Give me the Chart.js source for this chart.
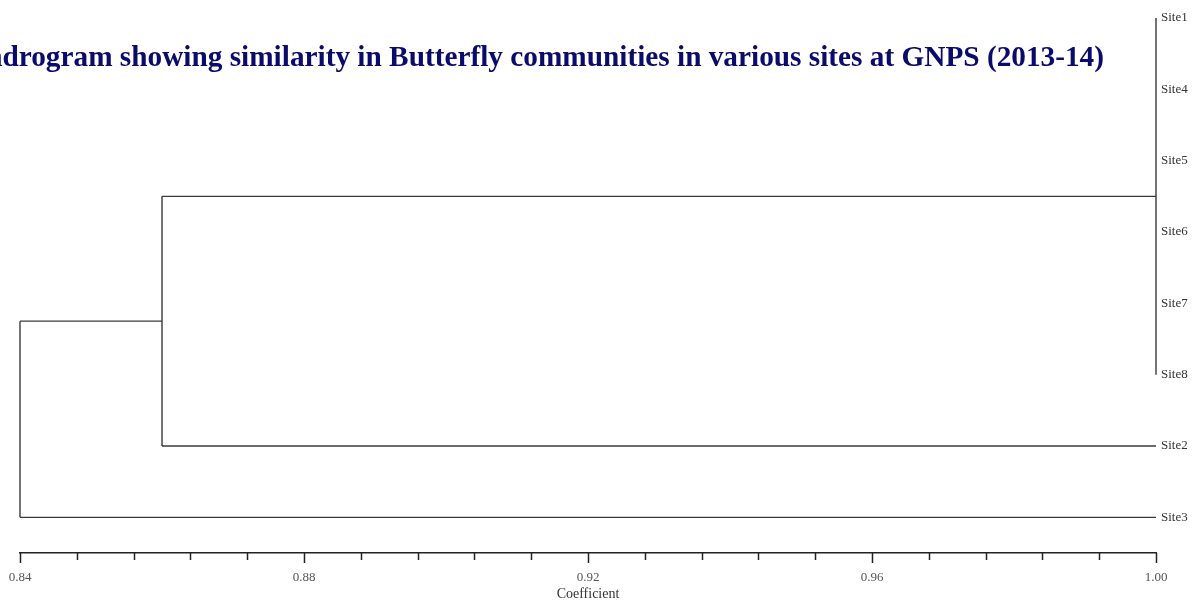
<!DOCTYPE html>
<html>
<head>
<meta charset="utf-8">
<script src="https://cdn.jsdelivr.net/npm/chart.js@4.4.1/dist/chart.umd.min.js"></script>
<style>
  html, body { margin: 0; padding: 0; background: #fff; }
  #wrap { width: 1199px; height: 603px; position: relative; }
</style>
</head>
<body>
<div id="wrap"><canvas id="dendro"></canvas></div>
<script>
// leaf order, top to bottom
var sites = ['Site1', 'Site4', 'Site5', 'Site6', 'Site7', 'Site8', 'Site2', 'Site3'];
// nested clusters: cluster k holds the first clusterSizes[k] leaves, joined at mergeLevels[k]
var clusterSizes = [6, 7, 8];
var mergeLevels = [1.00, 0.86, 0.84];
// axis ticks
var tickValues = [0.84, 0.848, 0.856, 0.864, 0.872, 0.88, 0.888, 0.896, 0.904, 0.912, 0.92,
                  0.928, 0.936, 0.944, 0.952, 0.96, 0.968, 0.976, 0.984, 0.992, 1.00];
var majorTicks = ['0.84', '0.88', '0.92', '0.96', '1.00'];

var titleText = 'Dendrogram showing similarity in Butterfly communities in various sites at GNPS (2013-14)';
var lineColor = '#3a3a3a';
var labelFont = '"Liberation Serif", "Times New Roman", serif';

// build the segments of the tree
var segments = [];
var prevNode = null; // {x, y} of previous cluster node
var prevSize = 0;
for (var k = 0; k < clusterSizes.length; k++) {
    var lvl = mergeLevels[k];
    var children = [];
    if (prevNode) children.push(prevNode);
    for (var i = prevSize; i < clusterSizes[k]; i++) {
        children.push({ x: 1.00, y: i });
    }
    var ys = [];
    for (var c = 0; c < children.length; c++) {
        var ch = children[c];
        if (ch.x !== lvl) segments.push([{ x: lvl, y: ch.y }, { x: ch.x, y: ch.y }]);
        ys.push(ch.y);
    }
    var yTop = Math.min.apply(null, ys), yBot = Math.max.apply(null, ys);
    segments.push([{ x: lvl, y: yTop }, { x: lvl, y: yBot }]);
    prevNode = { x: lvl, y: (yTop + yBot) / 2 };
    prevSize = clusterSizes[k];
}

var datasets = [];
for (var s = 0; s < segments.length; s++) {
    datasets.push({
        data: segments[s],
        showLine: true,
        borderColor: lineColor,
        borderWidth: 1.4,
        pointRadius: 0,
        fill: false,
        clip: 6
    });
}

// title overlaps the plot, so draw it ourselves (right aligned, "Den" runs off the page)
var titlePlugin = {
    id: 'titlePlugin',
    afterDraw: function(chart) {
        var ctx = chart.ctx;
        ctx.save();
        // size it so that "drogram ... (2013-14)" spans x 2..1104 like the source
        ctx.font = 'bold 100px ' + labelFont;
        var w = ctx.measureText(titleText.slice(3)).width;
        var size = 100 * 1102 / w;
        ctx.font = 'bold ' + size.toFixed(2) + 'px ' + labelFont;
        ctx.fillStyle = '#0b0b6b';
        ctx.textAlign = 'right';
        ctx.textBaseline = 'alphabetic';
        ctx.fillText(titleText, 1104, 66);
        ctx.restore();
    }
};

// major ticks longer than minor ones
var tickPlugin = {
    id: 'tickPlugin',
    afterDraw: function(chart) {
        var ctx = chart.ctx;
        var xs = chart.scales.x;
        var y0 = chart.chartArea.bottom;
        ctx.save();
        ctx.strokeStyle = '#222';
        ctx.lineWidth = 1.5;
        for (var i = 0; i < tickValues.length; i++) {
            var px = Math.round(xs.getPixelForValue(tickValues[i])) + 0.5;
            var len = (i % 5 === 0) ? 10 : 7;
            ctx.beginPath();
            ctx.moveTo(px, y0);
            ctx.lineTo(px, y0 + len);
            ctx.stroke();
        }
        ctx.restore();
    }
};

var ctx = document.getElementById('dendro').getContext('2d');
var chart = new Chart(ctx, {
    type: 'scatter',
    data: { datasets: datasets },
    options: {
        responsive: true,
        maintainAspectRatio: false,
        animation: false,
        layout: { padding: { left: 20, top: 18, right: 0, bottom: 0 } },
        plugins: {
            legend: { display: false },
            tooltip: { enabled: false },
            title: { display: false }
        },
        scales: {
            x: {
                type: 'linear',
                position: 'bottom',
                min: 0.84,
                max: 1.00,
                afterBuildTicks: function(scale) {
                    scale.ticks = tickValues.map(function(v) { return { value: v }; });
                },
                afterFit: function(scale) {
                    scale.height = 50;
                    scale.paddingLeft = 0;
                    scale.paddingRight = 0;
                },
                ticks: {
                    autoSkip: false,
                    maxRotation: 0,
                    padding: 17,
                    color: '#555',
                    font: { family: labelFont, size: 13 },
                    callback: function(v) {
                        var t = Number(v).toFixed(2);
                        return majorTicks.indexOf(t) >= 0 && Math.abs(v - Number(t)) < 1e-6 ? t : '';
                    }
                },
                grid: { display: false, drawTicks: false },
                border: { display: true, color: '#222', width: 1.5 },
                title: {
                    display: true,
                    text: 'Coefficient',
                    color: '#333',
                    font: { family: labelFont, size: 14 },
                    padding: { top: 0, bottom: 0 }
                }
            },
            y: {
                type: 'linear',
                position: 'right',
                reverse: true,
                min: 0,
                max: 7.5,
                afterBuildTicks: function(scale) {
                    scale.ticks = sites.map(function(n, i) { return { value: i }; });
                },
                afterFit: function(scale) { scale.width = 43; },
                ticks: {
                    autoSkip: false,
                    padding: 5,
                    color: '#333',
                    font: { family: labelFont, size: 13 },
                    callback: function(v) { return sites[v] || ''; }
                },
                grid: { display: false, drawTicks: false },
                border: { display: false }
            }
        }
    },
    plugins: [titlePlugin, tickPlugin]
});
</script>
</body>
</html>
